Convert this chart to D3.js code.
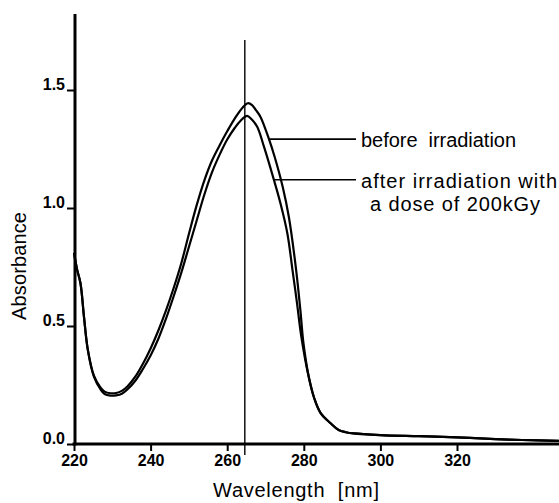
<!DOCTYPE html>
<html>
<head>
<meta charset="utf-8">
<script src="https://cdn.jsdelivr.net/npm/d3@7"></script>
<style>
  body { margin: 0; background: #fff; }
  svg { display: block; font-family: "Liberation Sans", Arial, sans-serif; }
  .tick-label { font-size: 16px; font-weight: bold; }
  .title { font-size: 20px; white-space: pre; }
  .note { font-size: 20px; white-space: pre; }
</style>
</head>
<body>
<div id="chart"></div>
<script>
  const width = 559;
  const height = 503;

  // spectra (wavelength in nm, absorbance)
  const beforeNm = [220, 220.8, 221.7, 222.6, 223.6, 225.2, 226.9, 228, 229.5, 231, 232.5, 234,
    236, 238, 240, 242, 244, 246, 248, 250, 252, 254, 256, 258, 260, 262, 264, 265.4, 266.5,
    267.5, 268.7, 270.8, 272.4, 274.5, 276.1, 278, 279.1, 279.9, 281.3, 282.7, 284.4, 287,
    289.1, 291, 293, 300, 310, 320, 330, 337, 347];
  const beforeAbs = [0.81, 0.74, 0.68, 0.54, 0.40, 0.29, 0.24, 0.222, 0.215, 0.216, 0.225, 0.245,
    0.285, 0.34, 0.405, 0.48, 0.565, 0.66, 0.765, 0.89, 1.01, 1.115, 1.2, 1.265, 1.325, 1.38,
    1.425, 1.444, 1.436, 1.415, 1.386, 1.297, 1.216, 1.089, 0.962, 0.737, 0.568, 0.428, 0.284,
    0.195, 0.131, 0.088, 0.059, 0.05, 0.045, 0.038, 0.033, 0.028, 0.021, 0.017, 0.013];

  const afterNm = [220, 220.8, 221.7, 222.6, 223.6, 225.2, 226.9, 228, 229.5, 231, 232.5, 234,
    236, 238, 240, 242, 244, 246, 248, 250, 252, 254, 256, 258, 260, 262, 263.5, 265.2, 266.3,
    267.8, 269.6, 272.2, 273.9, 275.7, 277.05, 278.2, 279.3, 280.4, 281.3, 282.7, 284.4, 287,
    289.1, 291, 293, 300, 310, 320, 330, 337, 347];
  const afterAbs = [0.81, 0.74, 0.68, 0.54, 0.40, 0.285, 0.232, 0.212, 0.205, 0.206, 0.213, 0.232,
    0.268, 0.318, 0.375, 0.445, 0.53, 0.625, 0.725, 0.835, 0.945, 1.055, 1.15, 1.225, 1.29, 1.34,
    1.37, 1.39, 1.377, 1.345, 1.26, 1.119, 1.02, 0.893, 0.737, 0.6, 0.46, 0.355, 0.284,
    0.195, 0.131, 0.088, 0.059, 0.05, 0.045, 0.038, 0.033, 0.028, 0.021, 0.017, 0.013];

  const xTicks = [220, 240, 260, 280, 300, 320];
  const yTicks = [0, 0.5, 1.0, 1.5];
  const markerNm = 264.6;

  const notes = [
    { lines: ["before  irradiation"], nm: 270.8, abs: 1.292, lens: [155] },
    { lines: ["after irradiation with", "a dose of 200kGy"], nm: 272.2, abs: 1.12, lens: [196, 170] }
  ];

  const x = d3.scaleLinear().domain([220, 320]).range([74, 457]);
  const y = d3.scaleLinear().domain([0, 1.5]).range([444, 90]);

  const svg = d3.select("#chart")
    .append("svg")
    .attr("width", width)
    .attr("height", height);

  // axes
  const yAxis = svg.append("g")
    .attr("transform", `translate(${x(220)},0)`)
    .call(d3.axisLeft(y).tickValues(yTicks).tickSize(7).tickFormat(d3.format(".1f")));
  yAxis.select(".domain").remove();
  yAxis.selectAll(".tick line").attr("stroke", "#000").attr("stroke-width", 2);
  yAxis.selectAll(".tick text")
    .attr("class", "tick-label")
    .attr("x", -9)
    .attr("dy", "-0.5")
    .attr("fill", "#000");
  yAxis.attr("font-family", null).attr("font-size", null);

  const xAxis = svg.append("g")
    .attr("transform", `translate(0,${y(0)})`)
    .call(d3.axisBottom(x).tickValues(xTicks).tickSize(7).tickFormat(d3.format("d")));
  xAxis.select(".domain").remove();
  xAxis.selectAll(".tick line").attr("stroke", "#000").attr("stroke-width", 2);
  xAxis.selectAll(".tick text")
    .attr("class", "tick-label")
    .attr("y", 22)
    .attr("dy", 0)
    .attr("fill", "#000");
  xAxis.attr("font-family", null).attr("font-size", null);

  svg.append("line")
    .attr("x1", x(220) + 1).attr("x2", x(220) + 1)
    .attr("y1", y(0) + 1.5).attr("y2", y(1.822))
    .attr("stroke", "#000").attr("stroke-width", 3);
  svg.append("line")
    .attr("x1", x(220) - 1.5).attr("x2", width)
    .attr("y1", y(0)).attr("y2", y(0))
    .attr("stroke", "#000").attr("stroke-width", 3);

  // thin marker at the peak
  svg.append("line")
    .attr("x1", x(markerNm)).attr("x2", x(markerNm))
    .attr("y1", y(1.712)).attr("y2", y(0) + 11)
    .attr("stroke", "#000").attr("stroke-width", 1.4);

  const line = d3.line()
    .x(d => x(d[0]))
    .y(d => y(d[1]))
    .curve(d3.curveCatmullRom.alpha(0.5));

  const series = [d3.zip(beforeNm, beforeAbs), d3.zip(afterNm, afterAbs)];
  svg.selectAll(".spectrum")
    .data(series)
    .enter()
    .append("path")
    .attr("class", "spectrum")
    .attr("d", line)
    .attr("fill", "none")
    .attr("stroke", "#000")
    .attr("stroke-width", 2.2)
    .attr("stroke-linejoin", "round");

  // annotations
  notes.forEach(n => {
    const py = y(n.abs);
    svg.append("line")
      .attr("x1", x(n.nm)).attr("x2", 356)
      .attr("y1", py).attr("y2", py)
      .attr("stroke", "#000").attr("stroke-width", 1.6);
    n.lines.forEach((t, i) => {
      svg.append("text")
        .attr("class", "note")
        .attr("x", i === 0 ? 361 : 370)
        .attr("y", py + 8 + i * 23)
        .attr("textLength", n.lens[i])
        .attr("lengthAdjust", "spacing")
        .text(t);
    });
  });

  svg.append("text")
    .attr("class", "title")
    .attr("x", 213)
    .attr("y", 497)
    .attr("textLength", 166)
    .attr("lengthAdjust", "spacing")
    .text("Wavelength  [nm]");

  svg.append("text")
    .attr("class", "title")
    .attr("transform", "translate(26,266) rotate(-90)")
    .attr("text-anchor", "middle")
    .attr("textLength", 108)
    .attr("lengthAdjust", "spacing")
    .text("Absorbance");
</script>
</body>
</html>
